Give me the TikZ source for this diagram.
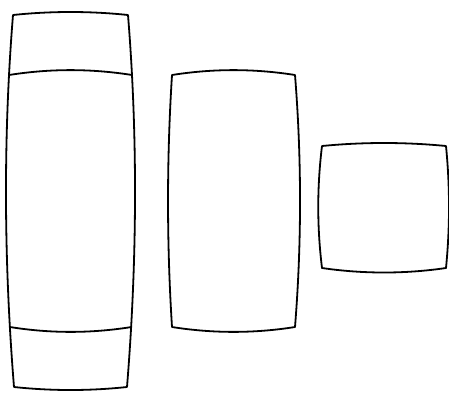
\documentclass[tikz,border=0pt]{standalone}
\usepackage{tikz}

\begin{document}
\begin{tikzpicture}[x=1pt,y=-1pt,line join=round,edge/.style={draw=black,line width=1.8pt}]
\useasboundingbox (0,0) rectangle (449,392);
% tall piece with two caps
\coordinate (tl) at (13,15);\coordinate (tr) at (128,15);
\coordinate (bl) at (14,387);\coordinate (br) at (127,387);
\draw[edge] (tl) .. controls (3,139) and (4,263) .. (bl) .. controls (52,391) and (89,391) .. (br) .. controls (137,263) and (138,139) .. (tr) .. controls (90,11) and (51,11) .. cycle;
\coordinate (ul) at (9,75);\coordinate (ur) at (132,75);
\coordinate (ll) at (10,327);\coordinate (lr) at (131.5,327);
\draw[edge] (ul) .. controls (50,68.5) and (91,68.5) .. (ur);
\draw[edge] (ll) .. controls (50,333.5) and (91,333.5) .. (lr);
% middle piece
\coordinate (ml) at (172,75);\coordinate (mr) at (295,75);
\coordinate (mbl) at (172,327);\coordinate (mbr) at (295,327);
\draw[edge] (ml) .. controls (166.7,159) and (166.7,243) .. (mbl) .. controls (213,333.5) and (254,333.5) .. (mbr) .. controls (301.7,243) and (301.7,159) .. (mr) .. controls (254,68.5) and (213,68.5) .. cycle;
% small piece
\coordinate (sl) at (322,146);\coordinate (sr) at (446,146);
\coordinate (sbl) at (322,268);\coordinate (sbr) at (446,268);
\draw[edge] (sl) .. controls (317,187) and (317,227) .. (sbl) .. controls (363,274) and (405,274) .. (sbr) .. controls (450,227) and (450,187) .. (sr) .. controls (405,142) and (363,142) .. cycle;
\end{tikzpicture}
\end{document}
